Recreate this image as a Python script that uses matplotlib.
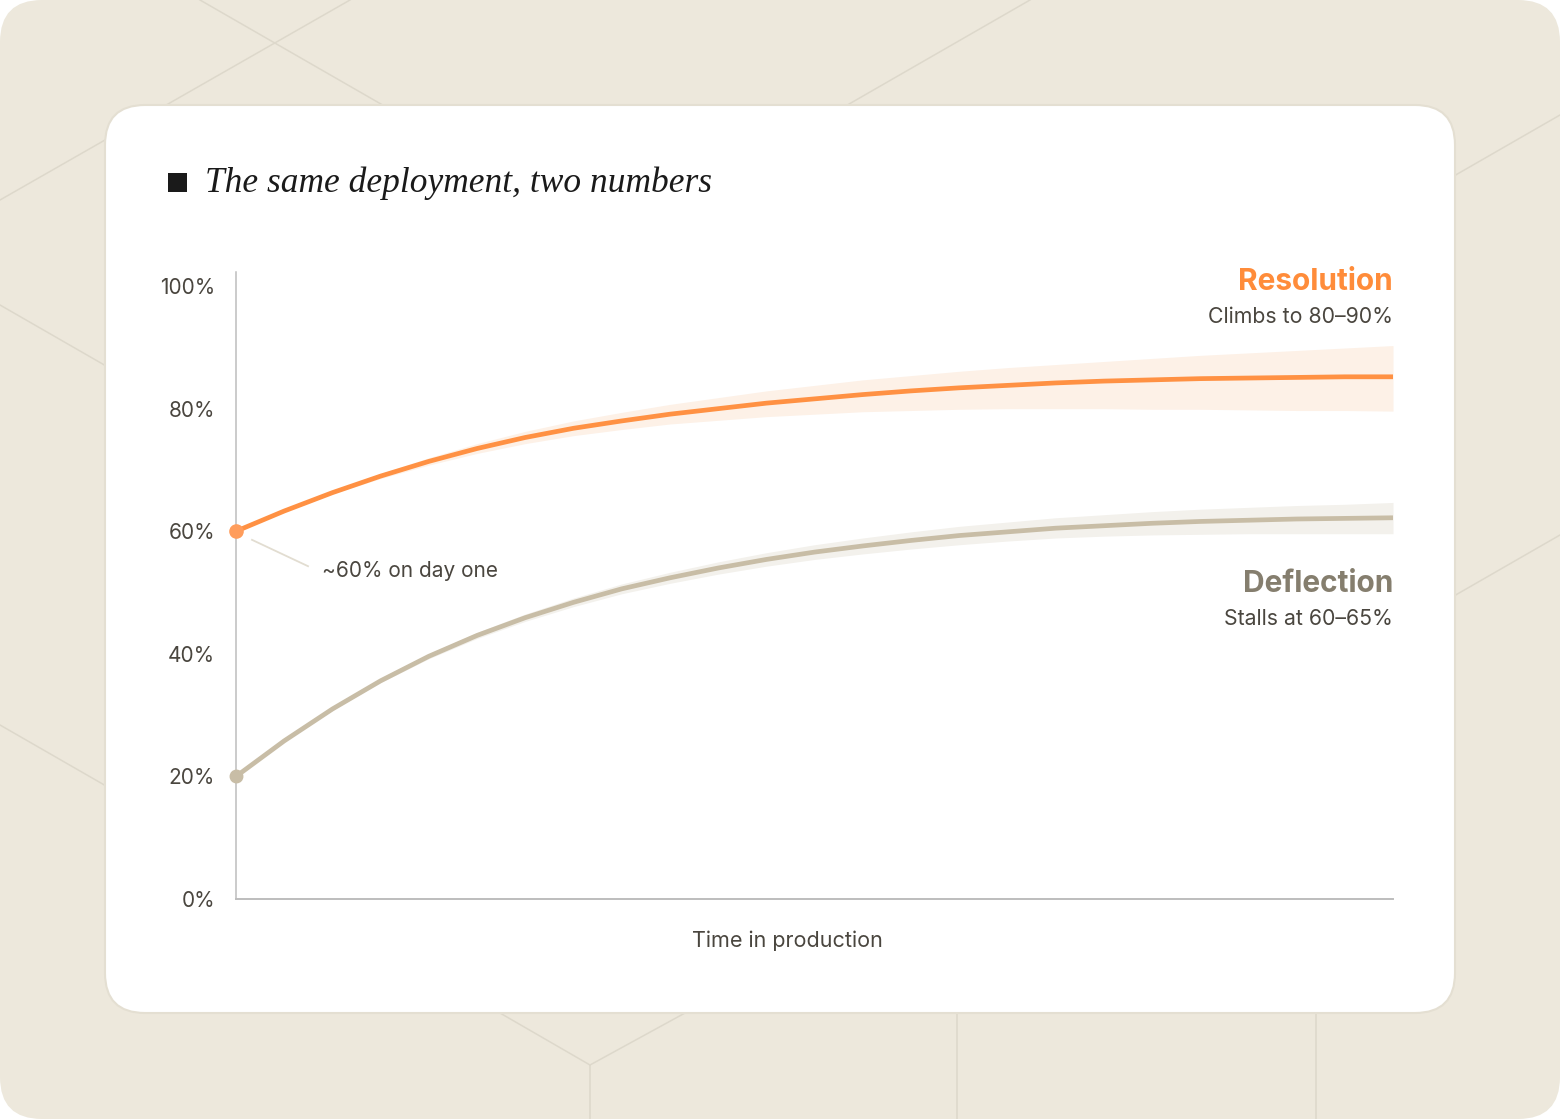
import matplotlib
matplotlib.use("Agg")
import matplotlib.pyplot as plt
from matplotlib.patches import FancyBboxPatch, Rectangle

# time steps (arbitrary units, evenly spaced across the axis)
steps = list(range(25))

resolution = [60.0, 63.3, 66.3, 69.0, 71.4, 73.5, 75.3, 76.8, 78.0, 79.1, 80.0, 80.9, 81.6,
              82.3, 82.9, 83.4, 83.8, 84.2, 84.5, 84.7, 84.9, 85.0, 85.1, 85.2, 85.2]
resolution_hi = [60.0, 63.4, 66.5, 69.4, 72.0, 74.3, 76.3, 78.0, 79.4, 80.7, 81.8, 82.9, 83.8,
                 84.7, 85.4, 86.1, 86.7, 87.2, 87.7, 88.2, 88.7, 89.1, 89.5, 89.9, 90.3]
resolution_lo = [60.0, 63.2, 66.1, 68.6, 70.8, 72.7, 74.3, 75.6, 76.6, 77.5, 78.1, 78.7, 79.1,
                 79.5, 79.7, 79.9, 80.0, 80.0, 80.0, 79.9, 79.9, 79.8, 79.7, 79.7, 79.6]

deflection = [20.0, 25.8, 31.0, 35.6, 39.6, 43.0, 45.9, 48.4, 50.6, 52.4, 54.0, 55.4, 56.6,
              57.6, 58.5, 59.3, 59.9, 60.5, 60.9, 61.3, 61.6, 61.8, 62.0, 62.1, 62.2]
deflection_hi = [20.0, 25.9, 31.2, 35.9, 40.0, 43.5, 46.5, 49.1, 51.4, 53.3, 55.0, 56.5, 57.8,
                 58.9, 59.9, 60.8, 61.5, 62.2, 62.7, 63.2, 63.6, 63.9, 64.2, 64.4, 64.7]
deflection_lo = [20.0, 25.7, 30.8, 35.3, 39.2, 42.5, 45.3, 47.7, 49.8, 51.5, 53.0, 54.3, 55.4,
                 56.3, 57.1, 57.8, 58.4, 58.9, 59.2, 59.4, 59.5, 59.6, 59.6, 59.6, 59.6]

yticks = [0, 20, 40, 60, 80, 100]
ytick_labels = ['0%', '20%', '40%', '60%', '80%', '100%']

ORANGE = '#FF9143'
ORANGE_BAND = '#FDF1E7'
BEIGE = '#C8BDA6'
BEIGE_BAND = '#F3F1EC'
TEXT = '#4A463F'
BG = '#EDE8DC'
BG_LINE = '#DDD8CB'

W, H = 1560, 1119
fig = plt.figure(figsize=(W / 100, H / 100), dpi=100)
fig.patch.set_facecolor('white')

# background layer in pixel coordinates
bg = fig.add_axes([0, 0, 1, 1], zorder=0)
bg.set_xlim(0, W)
bg.set_ylim(H, 0)
bg.axis('off')

bg.add_patch(FancyBboxPatch((0, 0), W, H, boxstyle="round,pad=0,rounding_size=42",
                            facecolor=BG, edgecolor='none'))
deco = [
    ((200, 0), (400, 115)),
    ((350, 0), (0, 200)),
    ((1030, 0), (830, 115)),
    ((1560, 115), (1440, 184)),
    ((0, 305), (120, 374)),
    ((0, 725), (120, 794)),
    ((1560, 535), (1440, 604)),
    ((500, 1013), (590, 1065)),
    ((685, 1013), (590, 1065)),
    ((590, 1065), (590, 1119)),
    ((957, 1000), (957, 1119)),
    ((1316, 1000), (1316, 1119)),
]
for (x0, y0), (x1, y1) in deco:
    bg.plot([x0, x1], [y0, y1], color=BG_LINE, lw=1.1)

bg.add_patch(FancyBboxPatch((105, 105), 1350, 908, boxstyle="round,pad=0,rounding_size=40",
                            facecolor='white', edgecolor='#E4DFD2', lw=1.5, zorder=3))

# title
bg.add_patch(Rectangle((168, 173), 19, 19, facecolor='#1A1A1A', edgecolor='none', zorder=4))
bg.text(205, 192, 'The same deployment, two numbers', family='Liberation Serif',
        style='italic', fontsize=25.5, color='#1A1A1A', va='baseline', ha='left', zorder=4)

bg.text(787, 947, 'Time in production', family='Inter', fontsize=15.5, color=TEXT,
        ha='center', va='baseline', zorder=4)

# main chart
ax = fig.add_axes([236 / W, 1 - 899 / H, (1393 - 236) / W, (899 - 272) / H], zorder=2)
ax.patch.set_alpha(0)
ax.set_xlim(0, 24)
ax.set_ylim(0, 102.3)

ax.fill_between(steps, resolution_lo, resolution_hi, color=ORANGE_BAND, lw=0, zorder=1)
ax.fill_between(steps, deflection_lo, deflection_hi, color=BEIGE_BAND, lw=0, zorder=1)
ax.plot(steps, deflection, color=BEIGE, lw=3.4, solid_capstyle='butt',
        solid_joinstyle='round', zorder=3)
ax.plot(steps, resolution, color=ORANGE, lw=3.4, solid_capstyle='butt',
        solid_joinstyle='round', zorder=3)
ax.plot(steps[0], resolution[0], 'o', color='#FF9D5C', ms=9.5, clip_on=False, zorder=4)
ax.plot(steps[0], deflection[0], 'o', color=BEIGE, ms=9, clip_on=False, zorder=4)

for s in ['top', 'right']:
    ax.spines[s].set_visible(False)
ax.spines['left'].set_color('#BDBDBD')
ax.spines['bottom'].set_color('#BDBDBD')
ax.spines['left'].set_linewidth(1.1)
ax.spines['bottom'].set_linewidth(1.4)

ax.set_xticks([])
ax.set_yticks(yticks)
ax.set_yticklabels(ytick_labels, family='Inter', fontsize=15, color=TEXT)
ax.tick_params(axis='y', length=0, pad=15)

# annotation
ax.plot([0.332, 1.494], [58.6, 54.3], color='#E2DDD1', lw=1.3, zorder=2)
ax.text(1.78, 52.6, '~60% on day one', family='Inter', fontsize=15, color=TEXT,
        va='baseline', ha='left')

# series labels
ax.text(24, 99.3, 'Resolution', family='Inter', fontweight='bold', fontsize=21.5,
        color='#FF8C3A', ha='right', va='baseline', clip_on=False)
ax.text(24, 94.0, 'Climbs to 80–90%', family='Inter', fontsize=15.3, color=TEXT,
        ha='right', va='baseline', clip_on=False)
ax.text(24, 50.1, 'Deflection', family='Inter', fontweight='bold', fontsize=21.5,
        color='#857E6E', ha='right', va='baseline')
ax.text(24, 44.7, 'Stalls at 60–65%', family='Inter', fontsize=15.3, color=TEXT,
        ha='right', va='baseline')

fig.savefig('out.png', dpi=100, facecolor=fig.get_facecolor())
